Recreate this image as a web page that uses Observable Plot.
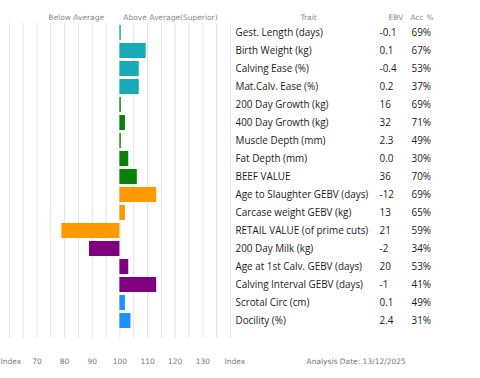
<!DOCTYPE html>
<html>
<head>
<meta charset="utf-8">
<script src="https://cdn.jsdelivr.net/npm/d3@7"></script>
<script src="https://cdn.jsdelivr.net/npm/@observablehq/plot@0.6"></script>
<style>
  html, body { margin: 0; padding: 0; background: #fff; }
</style>
</head>
<body>
<div id="chart"></div>
<script>
const traits = [
  "Gest. Length (days)", "Birth Weight (kg)", "Calving Ease (%)", "Mat.Calv. Ease (%)",
  "200 Day Growth (kg)", "400 Day Growth (kg)", "Muscle Depth (mm)", "Fat Depth (mm)",
  "BEEF VALUE", "Age to Slaughter GEBV (days)", "Carcase weight GEBV (kg)",
  "RETAIL VALUE (of prime cuts)", "200 Day Milk (kg)", "Age at 1st Calv. GEBV (days)",
  "Calving Interval GEBV (days)", "Scrotal Circ (cm)", "Docility (%)"
];
const ebv = ["-0.1", "0.1", "-0.4", "0.2", "16", "32", "2.3", "0.0", "36", "-12", "13", "21", "-2", "20", "-1", "0.1", "2.4"];
const acc = ["69%", "67%", "53%", "37%", "69%", "71%", "49%", "30%", "70%", "69%", "65%", "59%", "34%", "53%", "41%", "49%", "31%"];
const indexValue = [100.5, 109.5, 107, 107, 100.5, 102, 100.5, 103.2, 106.3, 113.3, 102, 79, 89, 103.2, 113.3, 102, 104];
const groups = ["Calving", "Calving", "Calving", "Calving", "Growth", "Growth", "Growth", "Growth", "Growth",
  "Carcase", "Carcase", "Carcase", "Maternal", "Maternal", "Maternal", "Other", "Other"];
const groupNames = ["Calving", "Growth", "Carcase", "Maternal", "Other"];
const groupColors = ["#17abb6", "#0a800a", "#ff9900", "#800080", "#1e90ff"];
const gridTicks = d3.range(60, 141, 5);
const axisTicks = [70, 80, 90, 100, 110, 120, 130];
const baseline = 100;

const rows = traits.map((t, i) => ({trait: t, ebv: ebv[i], acc: acc[i], index: indexValue[i], group: groups[i]}));

const tableFont = "Open Sans";
const labelFont = "DejaVu Sans";
const tableSize = 9.9;

const chart = Plot.plot({
  width: 480,
  height: 378,
  marginLeft: 8.8,
  marginRight: 250,
  marginTop: 23,
  marginBottom: 40,
  style: {fontFamily: labelFont, background: "#fff"},
  x: {domain: [60, 140], axis: null},
  y: {domain: traits, range: [22.7, 329.1], paddingInner: 0.18, paddingOuter: 0.09, axis: null},
  color: {domain: groupNames, range: groupColors},
  marks: [
    Plot.ruleX(gridTicks, {stroke: "#e3e3e3", strokeWidth: 1}),
    Plot.barX(rows, {y: "trait", x1: baseline, x2: "index", fill: "group"}),
    Plot.axisX({ticks: axisTicks, tickSize: 0, tickPadding: 20, fontSize: 7.5, fill: "#777", stroke: null, label: null}),
    // table
    Plot.text(rows, {y: "trait", text: "trait", frameAnchor: "right", dx: 5, textAnchor: "start", fontFamily: tableFont, fontSize: tableSize, fill: "#1a1a1a"}),
    Plot.text(rows, {y: "trait", text: "ebv", frameAnchor: "right", dx: 149, textAnchor: "start", fontFamily: tableFont, fontSize: tableSize, fill: "#1a1a1a"}),
    Plot.text(rows, {y: "trait", text: "acc", frameAnchor: "right", dx: 181, textAnchor: "start", fontFamily: tableFont, fontSize: tableSize, fill: "#1a1a1a"}),
    // headers
    Plot.text(["Below Average"], {frameAnchor: "top-left", dx: 39, dy: -9, textAnchor: "start", fontSize: 7.5, fill: "#888"}),
    Plot.text(["Above Average(Superior)"], {frameAnchor: "top-left", dx: 114, dy: -9, textAnchor: "start", fontSize: 7.5, fill: "#888"}),
    Plot.text(["Trait"], {frameAnchor: "top-right", dx: 70, dy: -9, textAnchor: "start", fontSize: 7.5, fill: "#888"}),
    Plot.text(["EBV"], {frameAnchor: "top-right", dx: 158, dy: -9, textAnchor: "start", fontSize: 7.5, fill: "#888"}),
    Plot.text(["Acc %"], {frameAnchor: "top-right", dx: 180, dy: -9, textAnchor: "start", fontSize: 7.5, fill: "#888"}),
    // footer
    Plot.text(["Index"], {frameAnchor: "bottom-left", dx: -8.8, dy: 25, textAnchor: "start", fontSize: 7.5, fill: "#777"}),
    Plot.text(["Index"], {frameAnchor: "bottom-right", dx: -6, dy: 25, textAnchor: "start", fontSize: 7.5, fill: "#777"}),
    Plot.text(["Analysis Date: 13/12/2025"], {frameAnchor: "bottom-right", dx: 76, dy: 25, textAnchor: "start", fontSize: 7.5, fill: "#777"})
  ]
});
document.getElementById("chart").appendChild(chart);
</script>
</body>
</html>
